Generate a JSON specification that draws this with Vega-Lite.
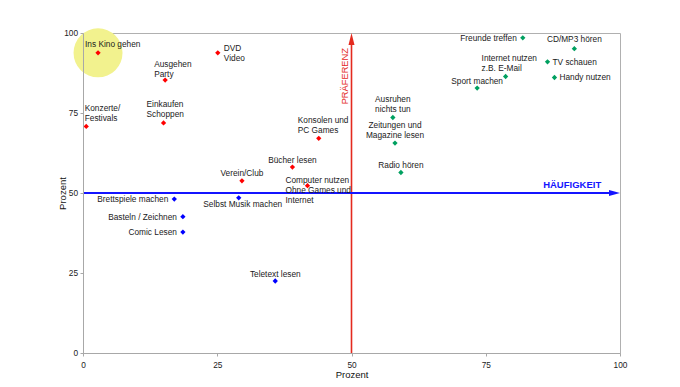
{
  "$schema": "https://vega.github.io/schema/vega-lite/v6.json",
  "width": 537,
  "height": 320,
  "autosize": {"type": "none"},
  "padding": {"left": 83, "top": 33, "right": 60, "bottom": 34},
  "background": "white",
  "config": {
    "view": {"stroke": "#b0b0b0", "strokeWidth": 1},
    "font": "Liberation Sans"
  },
  "data": {
    "values": [
      {"name": "Ins Kino gehen", "haeufigkeit": 2.8, "praeferenz": 93.8, "gruppe": "hohe Präferenz"},
      {"name": "DVD\nVideo", "haeufigkeit": 25.1, "praeferenz": 93.8, "gruppe": "hohe Präferenz"},
      {"name": "Ausgehen\nParty", "haeufigkeit": 15.3, "praeferenz": 85.3, "gruppe": "hohe Präferenz"},
      {"name": "Einkaufen\nSchoppen", "haeufigkeit": 15.0, "praeferenz": 71.9, "gruppe": "hohe Präferenz"},
      {"name": "Konzerte/\nFestivals", "haeufigkeit": 0.6, "praeferenz": 70.8, "gruppe": "hohe Präferenz"},
      {"name": "Konsolen und\nPC Games", "haeufigkeit": 43.9, "praeferenz": 67.1, "gruppe": "hohe Präferenz"},
      {"name": "Bücher lesen", "haeufigkeit": 39.0, "praeferenz": 58.1, "gruppe": "hohe Präferenz"},
      {"name": "Verein/Club", "haeufigkeit": 29.6, "praeferenz": 53.8, "gruppe": "hohe Präferenz"},
      {"name": "Computer nutzen\nOhne Games und\nInternet", "haeufigkeit": 41.8, "praeferenz": 52.3, "gruppe": "hohe Präferenz"},
      {"name": "Brettspiele machen", "haeufigkeit": 17.0, "praeferenz": 48.1, "gruppe": "niedrig"},
      {"name": "Selbst Musik machen", "haeufigkeit": 29.0, "praeferenz": 48.5, "gruppe": "niedrig"},
      {"name": "Basteln / Zeichnen", "haeufigkeit": 18.6, "praeferenz": 42.6, "gruppe": "niedrig"},
      {"name": "Comic Lesen", "haeufigkeit": 18.6, "praeferenz": 37.8, "gruppe": "niedrig"},
      {"name": "Teletext lesen", "haeufigkeit": 35.8, "praeferenz": 22.5, "gruppe": "niedrig"},
      {"name": "Ausruhen\nnichts tun", "haeufigkeit": 57.7, "praeferenz": 73.6, "gruppe": "hoch"},
      {"name": "Zeitungen und\nMagazine lesen", "haeufigkeit": 58.1, "praeferenz": 65.6, "gruppe": "hoch"},
      {"name": "Radio hören", "haeufigkeit": 59.2, "praeferenz": 56.4, "gruppe": "hoch"},
      {"name": "Freunde treffen", "haeufigkeit": 81.9, "praeferenz": 98.5, "gruppe": "hoch"},
      {"name": "CD/MP3 hören", "haeufigkeit": 91.5, "praeferenz": 95.1, "gruppe": "hoch"},
      {"name": "TV schauen", "haeufigkeit": 86.5, "praeferenz": 91.0, "gruppe": "hoch"},
      {"name": "Internet nutzen\nz.B. E-Mail", "haeufigkeit": 78.7, "praeferenz": 86.4, "gruppe": "hoch"},
      {"name": "Handy nutzen", "haeufigkeit": 87.8, "praeferenz": 86.1, "gruppe": "hoch"},
      {"name": "Sport machen", "haeufigkeit": 73.4, "praeferenz": 82.8, "gruppe": "hoch"}
    ]
  },
  "layer": [
    {
      "transform": [{"filter": {"field": "name", "equal": "Ins Kino gehen"}}],
      "mark": {"type": "point", "shape": "circle", "filled": true, "size": 2400, "color": "#f2f28e", "opacity": 1},
      "encoding": {
        "x": {"field": "haeufigkeit", "type": "quantitative"},
        "y": {"field": "praeferenz", "type": "quantitative"}
      }
    },
    {
      "data": {"values": [{}]},
      "mark": {"type": "rule", "color": "#e42a1e", "strokeWidth": 1.6},
      "encoding": {"x": {"datum": 50, "type": "quantitative"}, "y": {"datum": 0, "type": "quantitative"}, "y2": {"datum": 98}}
    },
    {
      "data": {"values": [{}]},
      "mark": {"type": "rule", "color": "#1414ff", "strokeWidth": 1.8},
      "encoding": {"x": {"datum": 0, "type": "quantitative"}, "x2": {"datum": 98.5}, "y": {"datum": 50, "type": "quantitative"}}
    },
    {
      "data": {"values": [{}]},
      "mark": {"type": "point", "shape": "M0,0L-0.6,2.4L0.6,2.4Z", "filled": true, "size": 100, "color": "#e42a1e", "opacity": 1, "strokeWidth": 0},
      "encoding": {"x": {"datum": 50, "type": "quantitative"}, "y": {"datum": 100, "type": "quantitative"}}
    },
    {
      "data": {"values": [{}]},
      "mark": {"type": "point", "shape": "M0,0L-2.2,-0.6L-2.2,0.6Z", "filled": true, "size": 100, "color": "#1414ff", "opacity": 1, "strokeWidth": 0},
      "encoding": {"x": {"datum": 100, "type": "quantitative"}, "y": {"datum": 50, "type": "quantitative"}}
    },
    {
      "data": {"values": [{"achse": "HÄUFIGKEIT"}]},
      "mark": {"type": "text", "fontSize": 9.5, "fontWeight": "bold", "color": "#1414ff", "align": "right", "baseline": "middle", "dy": -8},
      "encoding": {"x": {"datum": 96.5, "type": "quantitative"}, "y": {"datum": 50, "type": "quantitative"}, "text": {"field": "achse", "type": "nominal"}}
    },
    {
      "data": {"values": [{"achse": "PRÄFERENZ"}]},
      "mark": {"type": "text", "fontSize": 9.3, "color": "#e42a1e", "align": "center", "baseline": "middle", "angle": 270, "dy": -7},
      "encoding": {"x": {"datum": 50, "type": "quantitative"}, "y": {"datum": 86.5, "type": "quantitative"}, "text": {"field": "achse", "type": "nominal"}}
    },
    {
      "encoding": {
        "x": {
          "field": "haeufigkeit", "type": "quantitative",
          "scale": {"domain": [0, 100], "nice": false, "zero": false},
          "axis": {
            "title": "Prozent", "values": [0, 25, 50, 75, 100], "grid": false, "labelFlush": false,
            "domainColor": "#a8a8a8", "tickColor": "#a8a8a8", "tickSize": 3,
            "labelFontSize": 8.3, "labelPadding": 4, "labelColor": "#222", "labelFont": "Liberation Sans",
            "titleFontSize": 9.5, "titleFontWeight": "normal", "titlePadding": 1, "titleColor": "#111", "titleFont": "Liberation Sans",
            "zindex": 1
          }
        },
        "y": {
          "field": "praeferenz", "type": "quantitative",
          "scale": {"domain": [0, 100], "nice": false, "zero": false},
          "axis": {
            "title": "Prozent", "values": [0, 25, 50, 75, 100], "grid": false, "labelFlush": false,
            "domainColor": "#a8a8a8", "tickColor": "#a8a8a8", "tickSize": 3,
            "labelFontSize": 8.3, "labelPadding": 2.5, "labelColor": "#222", "labelFont": "Liberation Sans",
            "titleFontSize": 9.5, "titleFontWeight": "normal", "titleColor": "#111", "titleFont": "Liberation Sans",
            "titleX": -20.5, "titleBaseline": "middle",
            "zindex": 1
          }
        }
      },
      "layer": [
        {
          "mark": {"type": "point", "shape": "diamond", "filled": true, "size": 28, "opacity": 1},
          "encoding": {
            "color": {
              "field": "gruppe", "type": "nominal",
              "scale": {"domain": ["hohe Präferenz", "niedrig", "hoch"], "range": ["#ff0000", "#0000ff", "#00a060"]},
              "legend": null
            }
          }
        },
        {
          "transform": [{"filter": {"field": "name", "oneOf": ["Bücher lesen", "Verein/Club", "Teletext lesen", "Radio hören", "Sport machen"]}}],
          "mark": {"type": "text", "fontSize": 8.3, "color": "#1a1a1a", "align": "center", "baseline": "bottom", "dy": -2.5},
          "encoding": {"text": {"field": "name", "type": "nominal"}}
        },
        {
          "transform": [{"filter": {"field": "name", "equal": "CD/MP3 hören"}}],
          "mark": {"type": "text", "fontSize": 8.3, "color": "#1a1a1a", "align": "center", "baseline": "bottom", "dy": -5},
          "encoding": {"text": {"field": "name", "type": "nominal"}}
        },
        {
          "transform": [{"filter": {"field": "name", "oneOf": ["Ausruhen\nnichts tun", "Zeitungen und\nMagazine lesen"]}}],
          "mark": {"type": "text", "fontSize": 8.3, "lineBreak": "\n", "lineHeight": 10, "color": "#1a1a1a", "align": "center", "baseline": "bottom", "dy": -13},
          "encoding": {"text": {"field": "name", "type": "nominal"}}
        },
        {
          "transform": [{"filter": {"field": "name", "equal": "Selbst Musik machen"}}],
          "mark": {"type": "text", "fontSize": 8.3, "color": "#1a1a1a", "align": "center", "baseline": "top", "dx": 4, "dy": 2},
          "encoding": {"text": {"field": "name", "type": "nominal"}}
        },
        {
          "transform": [{"filter": {"field": "name", "oneOf": ["Brettspiele machen", "Basteln / Zeichnen", "Comic Lesen", "Freunde treffen"]}}],
          "mark": {"type": "text", "fontSize": 8.3, "color": "#1a1a1a", "align": "right", "baseline": "middle", "dx": -6, "dy": 1},
          "encoding": {"text": {"field": "name", "type": "nominal"}}
        },
        {
          "transform": [{"filter": {"field": "name", "oneOf": ["TV schauen", "Handy nutzen"]}}],
          "mark": {"type": "text", "fontSize": 8.3, "color": "#1a1a1a", "align": "left", "baseline": "middle", "dx": 5, "dy": 1},
          "encoding": {"text": {"field": "name", "type": "nominal"}}
        },
        {
          "transform": [{"filter": {"field": "name", "equal": "DVD\nVideo"}}],
          "mark": {"type": "text", "fontSize": 8.3, "lineBreak": "\n", "lineHeight": 10, "color": "#1a1a1a", "align": "left", "baseline": "middle", "dx": 6, "dy": -4},
          "encoding": {"text": {"field": "name", "type": "nominal"}}
        },
        {
          "transform": [{"filter": {"field": "name", "equal": "Ins Kino gehen"}}],
          "mark": {"type": "text", "fontSize": 8.3, "color": "#1a1a1a", "align": "left", "baseline": "bottom", "dx": -13, "dy": -4},
          "encoding": {"text": {"field": "name", "type": "nominal"}}
        },
        {
          "transform": [{"filter": {"field": "name", "equal": "Ausgehen\nParty"}}],
          "mark": {"type": "text", "fontSize": 8.3, "lineBreak": "\n", "lineHeight": 10, "color": "#1a1a1a", "align": "left", "baseline": "bottom", "dx": -11, "dy": -11.5},
          "encoding": {"text": {"field": "name", "type": "nominal"}}
        },
        {
          "transform": [{"filter": {"field": "name", "equal": "Einkaufen\nSchoppen"}}],
          "mark": {"type": "text", "fontSize": 8.3, "lineBreak": "\n", "lineHeight": 10, "color": "#1a1a1a", "align": "left", "baseline": "bottom", "dx": -17, "dy": -13.5},
          "encoding": {"text": {"field": "name", "type": "nominal"}}
        },
        {
          "transform": [{"filter": {"field": "name", "equal": "Konzerte/\nFestivals"}}],
          "mark": {"type": "text", "fontSize": 8.3, "lineBreak": "\n", "lineHeight": 10, "color": "#1a1a1a", "align": "left", "baseline": "bottom", "dx": -1.5, "dy": -13},
          "encoding": {"text": {"field": "name", "type": "nominal"}}
        },
        {
          "transform": [{"filter": {"field": "name", "equal": "Konsolen und\nPC Games"}}],
          "mark": {"type": "text", "fontSize": 8.3, "lineBreak": "\n", "lineHeight": 10, "color": "#1a1a1a", "align": "left", "baseline": "bottom", "dx": -21, "dy": -13.5},
          "encoding": {"text": {"field": "name", "type": "nominal"}}
        },
        {
          "transform": [{"filter": {"field": "name", "equal": "Internet nutzen\nz.B. E-Mail"}}],
          "mark": {"type": "text", "fontSize": 8.3, "lineBreak": "\n", "lineHeight": 10, "color": "#1a1a1a", "align": "left", "baseline": "bottom", "dx": -24, "dy": -13.5},
          "encoding": {"text": {"field": "name", "type": "nominal"}}
        },
        {
          "transform": [{"filter": {"field": "name", "equal": "Computer nutzen\nOhne Games und\nInternet"}}],
          "mark": {"type": "text", "fontSize": 8.3, "lineBreak": "\n", "lineHeight": 10, "color": "#1a1a1a", "align": "left", "baseline": "middle", "dx": -22, "dy": -5},
          "encoding": {"text": {"field": "name", "type": "nominal"}}
        }
      ]
    }
  ]
}
